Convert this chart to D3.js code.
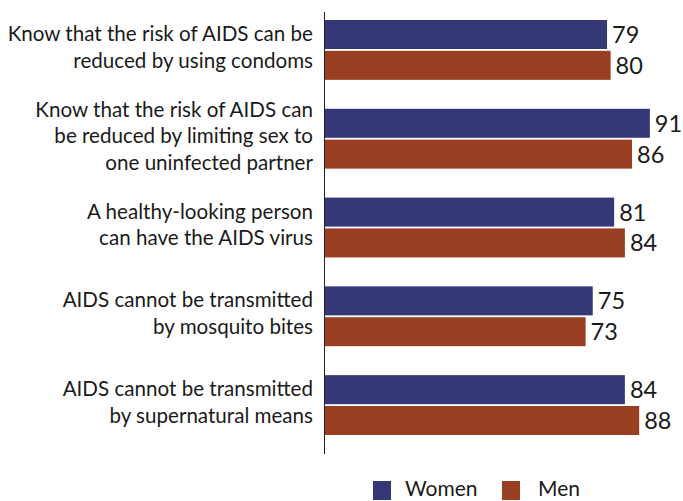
<!DOCTYPE html>
<html>
<head>
<meta charset="utf-8">
<script src="https://cdn.jsdelivr.net/npm/d3@7"></script>
<style>
  body { margin: 0; background: #fff; }
  text { font-family: Lato, "Noto Sans", sans-serif; fill: #1a1a1a; }
</style>
</head>
<body>
<div id="vis"></div>
<script>

/* Data */

// question labels, one array entry per line of text
var questions = [
  ["Know that the risk of AIDS can be", "reduced by using condoms"],
  ["Know that the risk of AIDS can", "be reduced by limiting sex to", "one uninfected partner"],
  ["A healthy-looking person", "can have the AIDS virus"],
  ["AIDS cannot be transmitted", "by mosquito bites"],
  ["AIDS cannot be transmitted", "by supernatural means"]
];

var series = ["Women", "Men"];
var women = [79, 91, 81, 75, 84];
var men = [80, 86, 84, 73, 88];

/* Setup */

var width = 683,
    height = 501;

var svg = d3.select("#vis")
    .append("svg")
    .attr("width", width)
    .attr("height", height);

var keys = questions.map(function(d, i) { return i; });

var data = keys.map(function(i) {
  return {key: i, lines: questions[i], values: [
    {key: "Women", value: women[i]},
    {key: "Men", value: men[i]}
  ]};
});

// scale for values
var x = d3.scaleLinear()
    .domain([0, 100])
    .range([325, 682]);

// scale for groups
var y0 = d3.scaleBand()
    .domain(keys)
    .range([20, 435])
    .paddingInner(0.326);

// scale within groups
var y1 = d3.scaleBand()
    .domain(series)
    .range([0, y0.bandwidth()])
    .paddingInner(0.06);

var z = d3.scaleOrdinal()
    .domain(series)
    .range(["#343876", "#9a3e22"]);

var lineHeight = 26.7;

/* Bars */

var group = svg.append("g")
  .selectAll("g")
  .data(data)
  .enter().append("g")
    .attr("transform", function(d) { return "translate(0," + y0(d.key) + ")"; });

group.selectAll("rect")
  .data(function(d) { return d.values; })
  .enter().append("rect")
    .attr("x", x(0))
    .attr("y", function(d) { return y1(d.key); })
    .attr("width", function(d) { return x(d.value) - x(0); })
    .attr("height", y1.bandwidth())
    .attr("fill", function(d) { return z(d.key); });

// value labels at the end of each bar
group.selectAll(".value")
  .data(function(d) { return d.values; })
  .enter().append("text")
    .attr("class", "value")
    .attr("x", function(d) { return x(d.value) + 5; })
    .attr("y", function(d) { return y1(d.key) + y1.bandwidth() / 2 + 8.5; })
    .attr("font-size", 23.5)
    .text(function(d) { return d.value; });

// wrapped question labels, centred on the group
group.append("text")
    .attr("text-anchor", "end")
    .attr("font-size", 20.6)
    .each(function(d) {
      var t = d3.select(this),
          first = y0.bandwidth() / 2 + 4.5 - (d.lines.length - 1) / 2 * lineHeight;
      d.lines.forEach(function(line, i) {
        t.append("tspan")
          .attr("x", 313)
          .attr("y", first + i * lineHeight)
          .text(line);
      });
    });

// vertical axis line
svg.append("line")
    .attr("x1", 324.5)
    .attr("x2", 324.5)
    .attr("y1", 12)
    .attr("y2", 454)
    .attr("stroke", "#222")
    .attr("stroke-width", 1);

/* Legend */

var legendX = [373, 502];

var legend = svg.append("g")
  .selectAll("g")
  .data(series)
  .enter().append("g")
    .attr("transform", function(d, i) { return "translate(" + legendX[i] + ",481)"; });

legend.append("rect")
    .attr("width", 18)
    .attr("height", 19)
    .attr("fill", z);

legend.append("text")
    .attr("x", function(d, i) { return i ? 36 : 32; })
    .attr("y", 15)
    .attr("font-size", 21)
    .text(function(d) { return d; });

</script>
</body>
</html>
